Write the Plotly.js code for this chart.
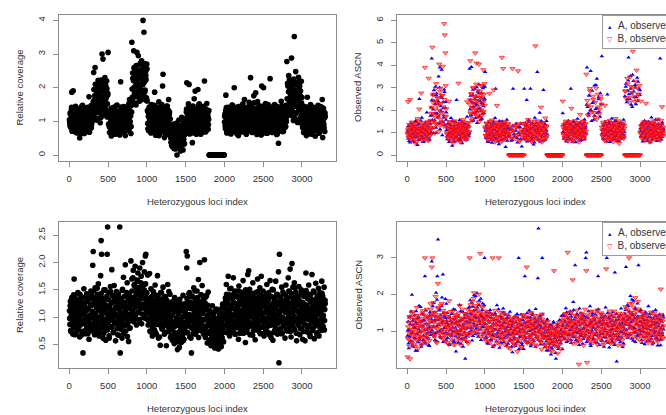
<!DOCTYPE html>
<html>
<head>
<meta charset="utf-8">
<script src="https://cdn.plot.ly/plotly-3.0.1.min.js"></script>
<style>
  html, body { margin: 0; padding: 0; background: #fff; }
  #chart { width: 666px; height: 415px; }
</style>
</head>
<body>
<div id="chart"></div>
<script>
// Relative coverage (x100). Two interleaved samples of the heterozygous loci:
// set 1 holds loci 3, 9, 15, ... and set 2 holds loci 6, 12, 18, ...
const coverageTumor1 = [
  105, 88, 121, 97, 134, 187, 76, 112, 191, 93, 128, 70, 101, 145, 84, 117, 66, 139, 95, 108,
  79, 124, 51, 99, 132, 86, 113, 72, 148, 103, 91, 126, 64, 110, 82, 137, 98, 119, 75, 142,
  89, 106, 173, 68, 129, 94, 115, 81, 135, 100,
  132, 158, 245, 121, 176, 260, 143, 109, 188, 154, 201, 127, 169, 214, 138, 182, 96, 157, 223, 145,
  300, 171, 285, 118, 193, 162, 230, 137, 206, 151, 220, 113, 178, 305,
  92, 118, 67, 131, 85, 104, 57, 126, 99, 141, 78, 113, 88, 136, 62, 107, 124, 94, 149, 71,
  102, 129, 83, 115, 60, 97, 218, 121, 76, 138, 90, 111, 69, 144, 87, 125, 58, 103, 133, 80,
  116, 95, 140, 73, 108, 165, 86, 122, 64, 147,
  335, 172, 228, 156, 310, 201, 245, 183, 262, 149, 219, 305, 176, 238, 295, 207, 268, 161, 252, 193,
  226, 280, 171, 247, 400, 214, 365, 272, 188, 255, 236, 162, 270,
  161, 94, 127, 72, 139, 105, 83, 118, 66, 150, 98, 124, 77, 111, 143, 88, 187, 102, 59, 131,
  91, 115, 70, 136, 84, 158, 107, 63, 122, 95, 141, 79, 113, 205, 240, 87, 126, 52, 109, 133,
  74, 118, 96, 145, 61, 103, 165, 82, 128, 90,
  62, 38, 81, 47, 25, 73, 54, 92, 33, 66, 44, 18, 85, 29, 0, 57, 71, 36, 104, 49,
  63, 27, 88, 52, 112, 41, 76, 15, 97, 58, 34, 83, 108,
  86, 128, 215, 71, 113, 97, 140, 210, 63, 119, 92, 131, 76, 108, 37, 146, 84, 122, 167, 99,
  190, 68, 115, 138, 81, 104, 195, 126, 73, 152, 94, 117, 62, 135, 88, 109, 143, 78, 121, 100,
  220, 85, 130, 69, 114, 153, 91, 124, 77, 106,
  0, 0, 0, 0, 0, 0, 0, 0, 0, 0, 0, 0, 0, 0, 0, 0, 0, 0, 0, 0,
  0, 0, 0, 0, 0, 0, 0, 0, 0, 0, 0, 0, 0,
  98, 122, 79, 178, 141, 66, 105, 131, 88, 116, 72, 139, 94, 110, 63, 127, 85, 148, 101, 76,
  119, 200, 90, 134, 68, 112, 97, 143, 81, 125, 58, 107, 133, 87, 120, 74, 146, 95, 115, 69,
  128, 91, 104, 165, 78, 136, 99, 62, 117, 84, 142, 108, 73, 157, 95, 124, 230, 86, 151, 112,
  67, 138, 101, 176, 82, 120, 93, 185, 129, 71, 114, 159, 88, 106, 147, 75, 132, 97, 122, 60,
  205, 110, 84, 140, 200, 92, 126, 71, 153, 103, 80, 118, 65, 135, 98, 112, 145, 87, 227, 124,
  76, 101, 139, 90, 116, 68, 130, 94, 150, 109, 83, 127, 61, 106, 144, 96, 35, 119, 74, 136,
  102, 88, 160, 115, 70, 128, 93, 141, 79, 111, 125, 85, 148, 99,
  278, 142, 205, 118, 236, 163, 191, 127, 178, 215, 288, 134, 199, 156, 103, 226, 352, 171, 122, 248,
  187, 144, 212, 97, 165, 231, 138, 203, 109, 176, 150, 219, 128,
  134, 81, 112, 67, 145, 96, 123, 88, 107, 58, 119, 172, 92, 138, 75, 103, 128, 63, 150, 99,
  84, 116, 141, 70, 109, 131, 90, 121, 56, 137, 101, 78, 126, 94, 148, 113, 66, 104, 135, 87,
  120, 73, 142, 165, 52, 97, 131, 81, 110, 125
];

const coverageTumor2 = [
  97, 125, 83, 110, 142, 71, 118, 90, 133, 104, 78, 121, 95, 139, 68, 114, 101, 85, 128, 74,
  109, 137, 92, 63, 120, 99, 145, 81, 116, 88, 131, 70, 106, 124, 94, 140, 77, 112, 86, 127,
  102, 69, 135, 96, 119, 80, 147, 91, 108, 123,
  146, 118, 195, 163, 132, 210, 151, 177, 104, 189, 140, 222, 167, 126, 184, 155, 199, 112, 172, 137,
  208, 160, 125, 190, 148, 175, 215, 135, 168, 121, 197, 152, 183, 128,
  115, 84, 129, 96, 72, 138, 107, 90, 122, 66, 101, 134, 79, 117, 93, 146, 70, 112, 87, 125,
  98, 63, 131, 109, 82, 120, 143, 91, 76, 114, 105, 136, 68, 127, 95, 118, 84, 140, 102, 73,
  123, 89, 111, 152, 78, 132, 99, 116, 85, 128,
  196, 244, 168, 221, 259, 182, 234, 153, 207, 266, 190, 227, 175, 249, 212, 161, 238, 199, 273, 186,
  230, 165, 254, 209, 241, 178, 262, 218, 193, 247, 224, 170, 256,
  132, 78, 115, 96, 143, 86, 121, 69, 108, 137, 92, 126, 74, 113, 100, 148, 81, 119, 65, 130,
  104, 88, 141, 97, 123, 58, 111, 135, 83, 117, 94, 150, 72, 128, 106, 89, 139, 67, 114, 125,
  99, 80, 146, 110, 76, 133, 93, 119, 62, 107,
  51, 74, 29, 60, 88, 42, 67, 20, 55, 79, 36, 63, 48, 95, 24, 70, 45, 58, 32, 82,
  53, 12, 66, 40, 77, 57, 30, 90, 47, 69, 61, 99, 75,
  104, 137, 79, 118, 92, 152, 70, 125, 98, 114, 83, 142, 106, 66, 129, 95, 117, 76, 138, 101,
  88, 121, 62, 133, 110, 85, 147, 96, 72, 124, 109, 139, 80, 116, 93, 128, 68, 112, 145, 87,
  119, 99, 74, 136, 103, 127, 82, 115, 91, 132,
  0, 0, 0, 0, 0, 0, 0, 0, 0, 0, 0, 0, 0, 0, 0, 0, 0, 0, 0, 0,
  0, 0, 0, 0, 0, 0, 0, 0, 0, 0, 0, 0, 0,
  115, 87, 132, 101, 73, 126, 94, 142, 80, 109, 121, 66, 137, 96, 113, 84, 149, 104, 71, 128,
  92, 118, 139, 77, 106, 131, 89, 62, 123, 99, 144, 82, 114, 127, 70, 135, 97, 111, 86, 152,
  103, 75, 129, 117, 93, 140, 64, 108, 122, 85, 136, 100, 78, 147, 112, 90, 126, 69, 133, 105,
  83, 119, 96, 155, 74, 124, 110, 138, 88, 61, 116, 130, 94, 79, 143, 107, 121, 68, 134, 98,
  87, 145, 113, 76, 127, 102, 139, 84, 118, 65, 131, 95, 109, 150, 81, 123, 72, 136, 104, 91,
  117, 140, 67, 128, 99, 86, 148, 111, 78, 125, 93, 134, 106, 63, 120, 142, 89, 114, 75, 137,
  101, 82, 129, 96, 146, 108, 70, 124, 92, 115, 133, 84, 107, 121,
  167, 213, 129, 188, 152, 224, 141, 196, 118, 178, 203, 135, 169, 220, 147, 184, 109, 209, 158, 193,
  126, 175, 216, 144, 182, 98, 161, 205, 137, 190, 116, 155, 171,
  88, 124, 103, 139, 76, 117, 95, 131, 68, 112, 143, 85, 121, 99, 135, 72, 108, 127, 91, 146,
  80, 115, 62, 132, 104, 89, 141, 97, 120, 74, 128, 110, 83, 137, 94, 118, 66, 125, 101, 144,
  86, 113, 130, 78, 106, 139, 92, 122, 70, 115
];

const coverageNormal1 = [
  112, 87, 129, 74, 103, 136, 95, 118, 81, 141, 170, 99, 68, 124, 108, 90, 132, 77, 145, 101,
  84, 119, 64, 127, 96, 138, 110, 73, 126, 35, 105, 152, 88, 121, 70, 114, 97, 143, 80, 130,
  92, 116, 60, 135, 103, 86, 148, 122, 75, 109, 195, 220, 89, 131, 68, 154, 106, 127, 82, 117,
  142, 94, 161, 73, 122, 100, 136, 176, 240, 215, 88, 129, 62, 113, 150, 97, 134, 79, 58, 121,
  107, 215, 265, 90, 145, 66, 118, 101, 156, 83, 126, 187, 95, 139, 72, 111, 158, 88, 130, 57,
  104, 147, 79, 123, 96, 142, 67, 115, 265, 35, 133, 91, 120, 62, 151, 98, 173, 84, 127, 110,
  196, 75, 138, 102, 163, 89, 117, 56, 144, 106, 81, 128, 203, 98, 170, 135, 112, 186, 92, 158,
  124, 193, 104, 147, 86, 168, 131, 181, 109, 154, 96, 190, 139, 116, 175, 88, 142, 200, 121, 160,
  103, 183, 134, 212, 215, 98, 145, 122, 177, 86, 130, 108, 180, 75, 121, 152, 94, 138, 66, 113,
  147, 87, 126, 101, 159, 72, 118, 140, 91, 176, 105, 62, 133, 97, 120, 49, 145, 84, 111, 128,
  78, 155, 100, 123, 69, 138, 92, 114, 48, 131, 86, 160, 107, 74, 126, 95, 142, 63, 117, 88,
  103, 58, 129, 81, 112, 52, 136, 93, 71, 120, 62, 98, 41, 125, 85, 110, 45, 133, 76, 95,
  54, 118, 88, 67, 140, 101, 60, 124, 79, 107, 91, 220, 190, 212, 72, 128, 96, 103, 145, 83,
  116, 62, 35, 137, 94, 121, 78, 154, 109, 87, 132, 69, 113, 98, 148, 82, 125, 169, 91, 104,
  200, 76, 119, 141, 88, 158, 107, 72, 130, 95, 205, 115, 63, 137, 84, 122, 53, 99, 146, 71,
  88, 59, 112, 74, 48, 96, 65, 121, 82, 53, 101, 70, 44, 92, 61, 115, 79, 50, 86, 67,
  42, 98, 73, 57, 108, 81, 46, 90, 63, 124, 76, 55, 102, 118, 84, 135, 97, 160, 72, 128,
  109, 175, 88, 141, 66, 122, 100, 153, 81, 117, 134, 93, 172, 77, 126, 104, 148, 69, 115, 90,
  139, 82, 120, 60, 157, 98, 131, 74, 111, 146, 87, 124, 103, 167, 71, 136, 95, 118, 54, 142,
  99, 128, 80, 178, 113, 185, 90, 151, 68, 125, 106, 140, 84, 120, 163, 75, 133, 97, 116, 59,
  145, 88, 127, 101, 170, 78, 136, 112, 92, 154, 70, 119, 175, 95, 131, 83, 148, 108, 66, 124,
  98, 137, 79, 116, 160, 90, 129, 72, 145, 104, 85, 167, 112, 63, 138, 96, 122, 58, 150, 107,
  130, 76, 117, 166, 89, 141, 101, 69, 126, 183, 17, 215, 94, 136, 80, 113, 155, 71, 121, 99,
  143, 86, 128, 62, 110, 159, 93, 134, 75, 118, 172, 101, 147, 83, 188, 125, 64, 140, 198, 108,
  155, 91, 133, 163, 77, 120, 146, 97, 57, 129, 111, 138, 85, 156, 102, 68, 124, 94, 150, 80,
  127, 60, 115, 139, 88, 106, 57, 145, 181, 98, 122, 73, 134, 100, 159, 84, 117, 65, 141, 109,
  90, 178, 126, 79, 148, 103, 61, 131, 95, 162, 113, 70, 137, 87, 123, 153, 66, 108, 145, 92,
  128, 76, 166, 101, 139, 83, 118, 155, 94, 131
];

const coverageNormal2 = [
  98, 121, 76, 109, 133, 88, 115, 69, 127, 102, 84, 139, 95, 117, 72, 124, 106, 91, 131, 79,
  113, 100, 142, 86, 120, 67, 108, 135, 93, 118, 75, 126, 104, 89, 137, 97, 112, 81, 129, 70,
  116, 94, 134, 103, 78, 122, 87, 140, 99, 111, 125, 83, 148, 107, 92, 136, 74, 119, 101, 153,
  88, 130, 112, 66, 141, 97, 123, 80, 144, 105, 118, 135, 90, 71, 127, 109, 150, 85, 114, 96,
  139, 77, 121, 103, 132, 62, 116, 94, 147, 108, 82, 126, 99, 140, 73, 113, 131, 89, 118, 105,
  136, 91, 120, 68, 143, 101, 84, 127, 110, 95, 78, 134, 106, 149, 88, 119, 71, 138, 97, 124,
  112, 86, 145, 103, 65, 130, 92, 117, 139, 80, 121, 102, 135, 96, 148, 113, 172, 129, 104, 160,
  138, 118, 155, 97, 143, 126, 166, 109, 152, 131, 92, 147, 121, 163, 135, 106, 158, 124, 141, 99,
  150, 117, 137, 161, 112, 144, 128, 96, 133, 108, 125, 88, 117, 74, 136, 102, 93, 129, 81, 114,
  106, 142, 77, 120, 98, 131, 69, 111, 125, 87, 137, 95, 118, 64, 104, 127, 90, 145, 79, 112,
  99, 134, 85, 121, 107, 72, 138, 93, 116, 101, 128, 83, 110, 147, 76, 122, 97, 88, 66, 115,
  78, 104, 59, 123, 92, 71, 110, 84, 131, 67, 99, 116, 55, 87, 106, 73, 127, 62, 95, 112,
  80, 119, 68, 101, 57, 90, 124, 76, 108, 85, 115, 72, 134, 98, 121, 86, 143, 105, 64, 127,
  93, 118, 81, 139, 102, 70, 125, 96, 113, 148, 84, 120, 106, 75, 136, 91, 117, 63, 129, 100,
  112, 87, 141, 95, 124, 78, 108, 133, 69, 119, 97, 126, 82, 114, 140, 73, 103, 122, 89, 111,
  74, 95, 58, 83, 106, 66, 91, 52, 79, 102, 63, 87, 110, 71, 55, 97, 80, 114, 68, 93,
  85, 61, 104, 76, 49, 92, 70, 117, 82, 57, 99, 73, 108, 118, 86, 129, 101, 142, 93, 124,
  113, 80, 135, 97, 152, 107, 121, 74, 139, 94, 116, 128, 85, 144, 103, 69, 125, 110, 88, 137,
  96, 119, 148, 82, 127, 105, 71, 133, 112, 91, 140, 99, 123, 78, 115, 131, 87, 109, 150, 95,
  121, 73, 136, 104, 92, 127, 116, 84, 145, 101, 130, 88, 113, 67, 139, 107, 95, 124, 79, 118,
  98, 134, 111, 86, 147, 122, 75, 105, 131, 93, 115, 141, 82, 126, 99, 70, 137, 108, 120, 90,
  128, 77, 112, 143, 95, 118, 84, 132, 104, 68, 121, 99, 138, 86, 110, 151, 93, 125, 72, 116,
  103, 134, 81, 119, 97, 128, 142, 89, 111, 76, 124, 106, 137, 92, 115, 70, 131, 100, 146, 85,
  118, 95, 127, 109, 140, 78, 113, 133, 88, 122, 105, 148, 91, 126, 74, 137, 110, 97, 143, 116,
  83, 129, 102, 119, 154, 94, 136, 71, 112, 125, 139, 87, 108, 131, 96, 120, 79, 145, 104, 116,
  92, 127, 74, 111, 138, 98, 123, 86, 149, 107, 118, 81, 135, 96, 112, 142, 69, 128, 101, 90,
  133, 109, 76, 124, 97, 146, 115, 84, 130, 102, 88, 121, 139, 72, 106, 117, 94, 135, 80, 126,
  111, 98, 144, 85, 119, 103, 132, 77, 114, 125
];

// Observed allele-specific copy numbers (x100). Two interleaved samples of the loci:
// set 1 holds loci 4, 12, 20, ... and set 2 holds loci 8, 16, 24, ...
const ascnTumorA1 = [
  108, 74, 131, 92, 56, 117, 143, 85, 99, 62, 126, 101, 78, 152, 89, 113, 45, 137, 95, 250,
  71, 122, 104, 166, 83, 58, 118, 97, 141, 76, 109, 190, 88, 128, 66, 152, 93, 175,
  212, 430, 156, 268, 98, 241, 185, 305, 122, 274, 167, 228, 350, 143, 390, 199, 262, 380, 88, 235,
  176, 292, 134, 210, 158,
  112, 71, 136, 94, 58, 121, 87, 165, 103, 42, 128, 96, 74, 149, 110, 83, 245, 119, 65, 137,
  91, 156, 77, 104, 128, 53, 115, 98, 140, 82, 120, 69, 107, 171, 88, 133, 95,
  385, 247, 176, 392, 213, 268, 154, 231, 295, 189, 259, 221, 143, 282, 205, 314, 173, 240, 198, 276,
  162, 229, 305, 187, 252,
  370, 118, 84, 132, 61, 105, 147, 92, 76, 124, 101, 55, 139, 86, 113, 70, 165, 295, 97, 128,
  80, 110, 48, 152, 93, 121, 67, 135, 104, 88, 143, 74, 116, 36, 99, 158, 82, 127,
  0, 92, 0, 118, 64, 0, 0, 295, 107, 0, 83, 0, 141, 0, 56, 0, 99, 0, 125, 72,
  0, 38, 0, 110, 0,
  295, 96, 134, 71, 245, 112, 88, 156, 63, 123, 295, 101, 79, 141, 92, 47, 118, 166, 85, 130,
  105, 370, 74, 126, 97, 189, 61, 114, 148, 83, 122, 290, 93, 137, 68, 108, 152,
  0, 0, 0, 0, 0, 0, 0, 0, 0, 0, 0, 0, 0, 0, 0, 0, 0, 0, 0, 0,
  0, 0, 0, 0, 0,
  186, 104, 73, 129, 95, 142, 61, 117, 88, 153, 79, 112, 136, 295, 92, 68, 124, 101, 147, 84,
  119, 57, 133, 96, 162, 75, 108, 141, 89, 121, 66, 115, 98, 138, 82, 159, 103, 127,
  0, 390, 214, 0, 176, 265, 0, 375, 198, 0, 232, 0, 158, 310, 0, 205, 0, 340, 187, 0,
  249, 0, 171, 0, 226,
  440, 112, 86, 134, 69, 101, 148, 93, 122, 270, 77, 116, 139, 58, 105, 89, 163, 124, 95, 71,
  131, 108, 84, 152, 97, 62, 118, 143, 80, 126, 102, 73, 137, 91, 115, 158, 86,
  262, 0, 318, 235, 0, 287, 435, 0, 249, 352, 0, 276, 214, 0, 330, 258, 0, 301, 227, 0,
  345, 242, 0, 296, 268,
  118, 84, 139, 96, 61, 127, 105, 153, 78, 113, 92, 146, 70, 121, 99, 135, 57, 110, 167, 87,
  128, 74, 104, 142, 90, 116, 63, 133, 97, 158, 81, 122, 430, 101, 69, 138, 93, 115
];

const ascnTumorA2 = [
  97, 128, 63, 115, 84, 142, 106, 71, 134, 92, 119, 57, 101, 146, 80, 124, 95, 68, 137, 110,
  86, 153, 74, 121, 99, 132, 61, 113, 88, 145, 105, 77, 129, 94, 118, 69, 140, 102,
  178, 246, 121, 203, 289, 154, 227, 98, 265, 186, 139, 240, 172, 301, 115, 218, 194, 256, 147, 209,
  168, 281, 132, 237, 190,
  123, 86, 141, 99, 67, 118, 134, 78, 107, 152, 91, 126, 59, 113, 145, 82, 104, 131, 72, 120,
  96, 138, 65, 110, 88, 147, 101, 76, 129, 93, 116, 139, 70, 108, 125, 84, 100,
  203, 264, 178, 238, 152, 291, 215, 187, 250, 165, 226, 302, 194, 243, 170, 277, 209, 158, 255, 231,
  184, 298, 219, 246, 305,
  109, 76, 133, 94, 121, 58, 142, 87, 115, 101, 68, 127, 96, 149, 80, 112, 136, 73, 105, 124,
  90, 61, 139, 117, 83, 128, 99, 151, 70, 114, 93, 134, 78, 108, 126, 64, 119, 97,
  85, 0, 112, 0, 0, 67, 131, 0, 94, 0, 0, 108, 0, 76, 123, 0, 0, 89, 0, 140,
  0, 0, 101, 0, 71,
  118, 79, 136, 93, 61, 127, 105, 148, 84, 113, 97, 140, 70, 121, 88, 132, 56, 109, 126, 75,
  143, 98, 115, 67, 130, 91, 107, 152, 82, 119, 64, 124, 101, 137, 86, 111, 95,
  0, 0, 0, 0, 0, 0, 0, 0, 0, 0, 0, 0, 0, 0, 0, 0, 0, 0, 0, 0,
  0, 0, 0, 0, 0,
  101, 134, 78, 117, 92, 145, 69, 122, 106, 87, 139, 73, 114, 98, 128, 60, 111, 150, 85, 124,
  95, 137, 76, 108, 131, 89, 119, 66, 142, 103, 81, 126, 97, 113, 148, 71, 120, 94,
  224, 0, 0, 186, 265, 0, 201, 0, 152, 287, 0, 238, 0, 175, 0, 312, 0, 209, 0, 257,
  193, 0, 276, 0, 0,
  96, 129, 73, 116, 142, 87, 108, 61, 134, 101, 120, 78, 147, 93, 112, 66, 125, 104, 138, 82,
  99, 153, 71, 118, 90, 131, 106, 63, 127, 85, 144, 110, 95, 123, 76, 136, 102,
  0, 305, 0, 248, 0, 332, 271, 0, 0, 296, 224, 0, 358, 0, 283, 0, 312, 0, 259, 0,
  0, 327, 0, 0, 289,
  107, 83, 131, 96, 144, 72, 119, 102, 88, 136, 63, 125, 110, 149, 79, 116, 93, 140, 68, 121,
  99, 133, 85, 112, 157, 74, 127, 104, 91, 138, 66, 118, 97, 129, 81, 145, 106, 115
];

const ascnTumorB1 = [
  95, 238, 121, 80, 247, 102, 66, 133, 90, 115, 73, 141, 108, 52, 127, 86, 162, 99, 118, 205,
  84, 110, 276, 93, 138, 69, 121, 104, 390, 81, 126, 97, 148, 74, 342, 112, 89, 155,
  186, 118, 480, 234, 150, 272, 97, 205, 318, 141, 253, 176, 229, 405, 132, 298, 190, 266, 148, 395,
  215, 585, 535, 455, 172,
  101, 135, 78, 118, 240, 92, 149, 66, 113, 87, 126, 54, 104, 141, 96, 95, 72, 131, 108, 320,
  117, 62, 144, 98, 79, 123, 105, 158, 86, 134, 71, 113, 90, 237, 127, 102, 146,
  226, 420, 184, 272, 155, 243, 301, 198, 262, 455, 215, 410, 178, 288, 234, 405, 167, 256, 310, 201,
  273, 189, 380, 243, 318,
  125, 87, 141, 73, 110, 95, 134, 275, 68, 119, 102, 156, 81, 127, 290, 93, 145, 64, 115, 220,
  88, 131, 76, 106, 138, 59, 122, 435, 97, 385, 113, 71, 148, 90, 126, 84, 105, 137,
  96, 0, 128, 0, 0, 74, 385, 0, 0, 112, 0, 88, 0, 134, 0, 375, 0, 61, 0, 0,
  104, 0, 142, 0, 79,
  112, 85, 140, 67, 123, 98, 158, 76, 131, 104, 89, 147, 62, 118, 95, 135, 73, 110, 486, 126,
  81, 152, 99, 68, 137, 107, 91, 213, 121, 58, 143, 87, 116, 102, 165, 74, 129,
  0, 0, 0, 0, 0, 0, 0, 0, 0, 0, 0, 0, 0, 0, 0, 0, 0, 0, 0, 0,
  0, 0, 0, 0, 0,
  240, 97, 135, 78, 118, 151, 86, 124, 65, 109, 142, 91, 117, 73, 208, 129, 100, 62, 136, 88,
  154, 104, 79, 126, 95, 143, 69, 113, 181, 97, 131, 84, 120, 148, 73, 107, 93, 139,
  360, 0, 0, 223, 0, 0, 285, 0, 0, 192, 0, 247, 0, 0, 168, 0, 298, 0, 0, 214,
  0, 183, 0, 262, 0,
  124, 89, 146, 72, 113, 221, 97, 138, 64, 108, 131, 83, 119, 155, 94, 70, 127, 102, 143, 79,
  115, 93, 162, 68, 124, 107, 137, 85, 52, 118, 96, 141, 78, 129, 104, 88, 133,
  0, 284, 0, 0, 341, 0, 0, 256, 0, 0, 305, 0, 0, 462, 0, 0, 238, 0, 0, 378,
  0, 0, 271, 0, 0,
  102, 240, 131, 78, 116, 93, 148, 67, 125, 230, 109, 84, 137, 96, 120, 58, 143, 105, 88, 129,
  74, 117, 152, 91, 135, 70, 112, 98, 160, 83, 127, 101, 66, 139, 94, 215, 118, 86
];

const ascnTumorB2 = [
  112, 79, 136, 94, 121, 68, 147, 103, 85, 129, 72, 116, 98, 141, 60, 125, 107, 89, 152, 76,
  118, 95, 133, 66, 110, 144, 83, 127, 101, 74, 139, 92, 115, 63, 130, 106, 87, 121,
  212, 147, 268, 185, 123, 240, 169, 297, 136, 221, 178, 254, 104, 199, 283, 158, 231, 142, 266, 190,
  128, 247, 173, 309, 206,
  94, 131, 73, 118, 146, 86, 109, 62, 137, 100, 125, 79, 152, 91, 114, 67, 128, 105, 141, 83,
  99, 121, 58, 134, 110, 88, 148, 75, 117, 96, 130, 69, 106, 143, 81, 124, 103,
  246, 188, 273, 211, 162, 298, 229, 185, 257, 203, 316, 174, 240, 266, 197, 149, 283, 218, 254, 176,
  309, 232, 195, 270, 221,
  118, 86, 142, 99, 67, 127, 108, 150, 81, 115, 93, 136, 72, 121, 104, 58, 131, 96, 147, 84,
  112, 125, 70, 139, 101, 88, 119, 63, 134, 97, 145, 78, 110, 129, 91, 106, 140, 75,
  0, 96, 0, 118, 82, 0, 0, 107, 0, 131, 74, 0, 125, 0, 0, 92, 139, 0, 66, 0,
  113, 88, 0, 102, 0,
  103, 138, 77, 121, 94, 146, 69, 115, 129, 86, 109, 61, 133, 98, 117, 82, 151, 92, 124, 73,
  140, 105, 88, 127, 64, 112, 136, 99, 79, 144, 118, 71, 107, 131, 90, 125, 83,
  0, 0, 0, 0, 0, 0, 0, 0, 0, 0, 0, 0, 0, 0, 0, 0, 0, 0, 0, 0,
  0, 0, 0, 0, 0,
  126, 89, 114, 71, 142, 104, 95, 133, 62, 118, 107, 149, 82, 124, 97, 66, 139, 111, 86, 128,
  75, 116, 145, 92, 120, 101, 58, 135, 109, 84, 127, 96, 151, 78, 113, 137, 90, 105,
  0, 243, 178, 0, 0, 296, 0, 215, 0, 0, 262, 0, 189, 0, 234, 0, 158, 0, 271, 0,
  0, 204, 0, 250, 227,
  111, 84, 137, 98, 65, 123, 106, 149, 80, 117, 93, 132, 71, 119, 102, 145, 87, 126, 59, 113,
  140, 96, 121, 76, 134, 108, 90, 152, 69, 115, 99, 128, 83, 110, 143, 74, 120,
  286, 0, 253, 0, 317, 0, 0, 234, 348, 0, 0, 279, 0, 301, 0, 262, 0, 329, 0, 245,
  298, 0, 271, 310, 0,
  95, 128, 74, 113, 141, 86, 120, 102, 67, 134, 109, 91, 147, 79, 118, 100, 131, 62, 124, 88,
  143, 105, 76, 116, 97, 138, 83, 127, 111, 70, 132, 93, 119, 154, 85, 107, 125, 98
];

const ascnNormalA1 = [
  88, 126, 54, 104, 141, 73, 95, 200, 62, 117, 132, 81, 109, 47, 155, 92, 120, 70, 138, 99,
  84, 166, 58, 113, 128, 76, 145, 102, 250, 67, 119, 93, 137, 81, 107, 60, 152, 98, 125, 290,
  143, 112, 177, 86, 131, 94, 205, 73, 250, 350, 118, 157, 101, 135, 82, 168, 124, 255, 95, 141,
  112, 188, 77, 129, 150, 93, 116, 64, 138, 105, 87, 147, 122, 99, 160, 71, 134, 110, 45, 126,
  95, 141, 83, 118, 172, 102, 66, 131, 90, 153, 114, 79, 136, 25, 107, 148, 88, 124, 163, 97,
  132, 185, 109, 146, 75, 167, 121, 198, 140, 93, 158, 116, 204, 137, 85, 172, 128, 105, 189, 143,
  111, 176, 94, 135, 300, 120, 82, 152, 105, 68, 139, 97, 124, 158, 76, 113, 145, 89, 130, 106,
  62, 149, 118, 92, 171, 84, 127, 103, 55, 140, 115, 80, 133, 96, 162, 71, 122, 108, 145, 87,
  104, 136, 66, 119, 91, 153, 78, 114, 129, 43, 97, 125, 84, 141, 60, 110, 93, 138, 73, 300,
  120, 86, 105, 146, 68, 116, 131, 52, 99, 250, 82, 124, 95, 138, 71, 112, 157, 88, 130, 64,
  103, 148, 77, 118, 93, 135, 58, 109, 126, 84, 245, 380, 97, 142, 115, 73, 128, 300, 90, 107,
  65, 121, 86, 104, 48, 133, 79, 97, 112, 58, 88, 37, 115, 70, 93, 126, 61, 82, 107, 25,
  74, 99, 118, 52, 86, 131, 68, 103, 142, 95, 113, 145, 80, 128, 97, 163, 71, 118, 136, 89,
  124, 102, 155, 76, 140, 110, 92, 180, 131, 84, 280, 117, 98, 147, 73, 126, 105, 162, 88, 135,
  94, 121, 66, 143, 109, 85, 130, 300, 315, 102, 138, 77, 116, 95, 168, 60, 125, 103, 149, 82,
  110, 134, 71, 120, 96, 157, 88, 250, 113, 63, 129, 92, 146, 75, 108, 138, 84, 122, 101, 165,
  72, 300, 115, 91, 137, 56, 124, 98, 143, 80, 106, 152, 69, 118, 260, 87, 131, 18, 110, 94,
  140, 76, 123, 99, 162, 83, 115, 134, 67, 105, 148, 118, 275, 92, 171, 130, 86, 154, 109, 196,
  125, 80, 145, 112, 183, 97, 136, 71, 160, 119, 88, 141, 280, 104, 127, 93, 158, 76, 116, 135,
  99, 121, 65, 147, 108, 85, 130, 94, 168, 113, 74, 139, 102, 118, 87, 153, 69, 125, 96, 141,
  110, 82, 134, 61, 119, 90, 146, 105, 77, 128, 95, 115, 138
];

const ascnNormalA2 = [
  102, 67, 138, 85, 119, 154, 73, 96, 128, 58, 111, 143, 81, 124, 92, 47, 135, 106, 170, 77,
  99, 126, 64, 148, 115, 88, 131, 71, 104, 157, 83, 120, 96, 139, 62, 112, 145, 90, 133, 102,
  168, 94, 127, 152, 76, 140, 113, 186, 99, 131, 118, 161, 85, 144, 105, 192, 128, 71, 150, 109,
  136, 97, 175, 123, 82, 116, 139, 63, 104, 128, 91, 147, 110, 74, 133, 98, 159, 86, 121, 102,
  140, 69, 115, 93, 128, 155, 80, 107, 134, 58, 119, 97, 145, 84, 126, 71, 110, 138, 92, 166,
  124, 149, 102, 178, 131, 87, 156, 115, 142, 196, 108, 137, 165, 94, 128, 183, 119, 146, 76, 139,
  158, 112, 131, 171, 97, 120, 84, 143, 106, 66, 129, 92, 150, 111, 78, 136, 101, 57, 122, 88,
  145, 104, 131, 72, 117, 96, 160, 85, 126, 108, 69, 138, 94, 115, 151, 82, 123, 100, 134, 61,
  112, 89, 143, 97, 74, 128, 106, 58, 119, 91, 135, 80, 103, 66, 124, 95, 147, 71, 110, 52,
  99, 131, 84, 117, 63, 106, 140, 88, 122, 75, 113, 96, 149, 68, 127, 101, 82, 138, 59, 119,
  91, 144, 107, 73, 125, 98, 161, 85, 112, 130, 77, 118, 102, 135, 64, 109, 93, 146, 81, 124,
  96, 57, 113, 72, 129, 87, 48, 104, 66, 118, 79, 95, 54, 108, 71, 123, 62, 88, 41, 100,
  83, 112, 58, 94, 76, 130, 67, 103, 86, 51, 118, 97, 141, 80, 126, 109, 152, 73, 115, 134,
  92, 147, 104, 68, 129, 113, 85, 158, 99, 121, 138, 76, 110, 145, 95, 127, 63, 116, 101, 149,
  87, 132, 106, 79, 124, 140, 93, 117, 71, 136, 102, 155, 84, 119, 66, 128, 97, 143, 111, 78,
  131, 90, 146, 105, 123, 69, 114, 160, 88, 125, 99, 137, 75, 118, 94, 131, 58, 107, 142, 83,
  121, 96, 150, 68, 113, 134, 87, 104, 128, 73, 116, 92, 139, 63, 125, 101, 147, 80, 109, 132,
  86, 119, 70, 144, 98, 122, 57, 111, 135, 94, 127, 158, 104, 141, 82, 169, 117, 136, 93, 150,
  112, 187, 129, 74, 145, 108, 162, 97, 133, 121, 176, 89, 138, 115, 154, 101, 126, 68, 143, 109,
  84, 130, 97, 152, 118, 72, 124, 106, 139, 91, 147, 113, 80, 127, 65, 135, 102, 119, 88, 158,
  99, 123, 141, 77, 114, 96, 132, 62, 108, 126, 90, 144, 105
];

const ascnNormalB1 = [
  30, 112, 78, 140, 25, 96, 125, 68, 153, 87, 104, 132, 59, 118, 91, 165, 75, 110, 143, 82,
  98, 127, 63, 115, 150, 84, 106, 72, 300, 136, 93, 160, 118, 81, 138, 102, 127, 175, 147, 275,
  300, 113, 89, 152, 128, 195, 71, 140, 107, 230, 165, 96, 135, 118, 83, 176, 142, 104, 124, 90,
  150, 73, 128, 110, 92, 140, 65, 183, 117, 98, 132, 85, 119, 155, 64, 108, 137, 94, 122, 76,
  143, 101, 115, 87, 170, 129, 62, 135, 97, 111, 126, 80, 148, 105, 93, 139, 72, 160, 116, 88,
  300, 128, 154, 96, 181, 135, 113, 205, 144, 102, 170, 124, 92, 156, 138, 201, 108, 312, 149, 121,
  95, 165, 131, 86, 142, 118, 74, 137, 103, 152, 88, 126, 110, 69, 145, 97, 134, 300, 82, 119,
  104, 157, 91, 128, 75, 115, 140, 300, 98, 63, 122, 87, 136, 109, 151, 78, 118, 95, 131, 70,
  103, 125, 56, 141, 86, 114, 97, 133, 72, 108, 90, 122, 64, 137, 99, 80, 113, 45, 128, 93,
  117, 75, 131, 102, 58, 144, 89, 120, 106, 83, 138, 97, 275, 115, 71, 126, 92, 150, 84, 110,
  67, 121, 101, 135, 78, 113, 94, 130, 60, 118, 87, 142, 105, 73, 124, 96, 51, 133, 82, 109,
  91, 62, 118, 79, 103, 55, 126, 85, 97, 70, 112, 48, 94, 77, 106, 66, 265, 88, 59, 101,
  72, 93, 40, 114, 82, 64, 120, 95, 76, 128, 104, 137, 89, 118, 96, 148, 81, 125, 315, 110,
  133, 92, 121, 75, 152, 106, 240, 87, 128, 99, 115, 68, 141, 103, 126, 84, 10, 119, 94, 137,
  78, 145, 108, 131, 88, 120, 160, 97, 265, 15, 123, 86, 141, 101, 72, 130, 112, 155, 89, 117,
  95, 136, 78, 124, 107, 148, 63, 119, 92, 133, 84, 112, 150, 98, 127, 70, 141, 105, 88, 121,
  270, 93, 134, 79, 115, 102, 146, 67, 123, 96, 138, 85, 110, 155, 74, 128, 91, 117, 104, 62,
  120, 98, 143, 81, 113, 132, 76, 107, 149, 90, 126, 167, 103, 140, 85, 158, 119, 300, 137, 94,
  152, 111, 176, 129, 87, 145, 103, 192, 123, 98, 135, 81, 161, 115, 92, 140, 72, 127, 106, 153,
  88, 118, 97, 139, 74, 124, 109, 83, 130, 101, 145, 78, 116, 93, 134, 68, 122, 105, 150, 87,
  113, 132, 76, 119, 98, 141, 84, 127, 215, 95, 110, 136, 81
];

const ascnNormalB2 = [
  81, 124, 96, 58, 137, 105, 72, 149, 90, 116, 63, 131, 99, 142, 77, 110, 128, 54, 121, 94,
  135, 86, 113, 70, 156, 101, 125, 83, 144, 108, 66, 119, 92, 138, 105, 75, 129, 160, 113, 142,
  97, 178, 124, 86, 151, 110, 137, 69, 163, 120, 145, 93, 128, 171, 102, 134, 81, 157, 116, 99,
  126, 148, 88, 112, 69, 139, 104, 123, 91, 154, 107, 76, 131, 118, 95, 146, 64, 127, 100, 139,
  85, 121, 150, 97, 113, 72, 136, 105, 160, 89, 118, 133, 78, 109, 147, 94, 125, 67, 141, 112,
  138, 172, 107, 154, 126, 95, 189, 131, 148, 117, 163, 100, 142, 128, 178, 111, 151, 86, 135, 167,
  122, 146, 103, 130, 81, 155, 114, 97, 139, 108, 73, 126, 95, 148, 112, 84, 133, 101, 60, 119,
  142, 90, 116, 129, 69, 137, 105, 87, 152, 98, 124, 77, 113, 144, 93, 131, 64, 109, 127, 86,
  146, 100, 121, 80, 115, 53, 98, 134, 72, 107, 88, 127, 61, 112, 96, 140, 78, 105, 118, 67,
  131, 93, 109, 57, 124, 85, 101, 145, 76, 114, 97, 139, 68, 121, 106, 82, 133, 115, 92, 150,
  74, 110, 128, 95, 143, 63, 117, 102, 86, 131, 108, 79, 136, 99, 122, 70, 147, 91, 114, 83,
  127, 96, 64, 108, 81, 116, 55, 93, 72, 102, 61, 87, 109, 46, 94, 75, 118, 66, 98, 84,
  105, 59, 90, 124, 71, 97, 52, 111, 80, 93, 130, 104, 88, 147, 113, 76, 125, 99, 141, 118,
  85, 136, 109, 152, 94, 120, 67, 128, 103, 144, 91, 114, 157, 80, 131, 106, 73, 139, 97, 122,
  149, 101, 126, 62, 117, 93, 134, 110, 86, 145, 107, 78, 128, 99, 153, 116, 84, 131, 68, 120,
  95, 139, 112, 74, 126, 103, 158, 87, 118, 136, 79, 124, 98, 146, 107, 63, 119, 133, 90, 114,
  102, 141, 72, 127, 95, 155, 110, 83, 131, 99, 67, 118, 143, 88, 124, 105, 78, 136, 96, 113,
  149, 81, 109, 126, 92, 137, 60, 115, 101, 128, 135, 98, 162, 121, 144, 86, 129, 175, 108, 151,
  94, 138, 117, 166, 103, 147, 79, 132, 155, 112, 125, 181, 99, 140, 116, 87, 133, 106, 148, 120,
  104, 137, 83, 118, 146, 95, 127, 69, 111, 134, 90, 123, 152, 101, 76, 129, 114, 143, 87, 106,
  131, 97, 119, 72, 140, 108, 125, 91, 146, 103, 82, 128, 115
];

const coverageStep = 6;   // loci between values within one coverage set
const ascnStep = 8;       // loci between values within one ASCN set
const lociTicks = [0, 500, 1000, 1500, 2000, 2500, 3000];
const xLabel = 'Heterozygous loci index';
const coverageLabel = 'Relative coverage';
const ascnLabel = 'Observed ASCN';
const seriesNames = ['A, observed', 'B, observed'];

function lociIndex(count, step, first) {
  return Array.from({ length: count }, (_, i) => first + i * step);
}
const fromHundredths = v => v / 100;

const dot = { symbol: 'circle', size: 5.6, color: '#000000' };
const markA = { symbol: 'triangle-up', size: 4, color: '#0000ff' };
const markB = { symbol: 'triangle-down', size: 4.6, color: 'rgba(255,60,60,0.5)',
                line: { color: 'rgba(255,0,0,0.9)', width: 0.7 } };

function points(values, step, first, xa, ya, marker, name) {
  return {
    type: 'scatter', mode: 'markers', name: name || '',
    x: lociIndex(values.length, step, first), y: values.map(fromHundredths),
    xaxis: xa, yaxis: ya, marker: marker, showlegend: false, hoverinfo: 'skip'
  };
}

const traces = [
  points(coverageTumor1, coverageStep, 3, 'x', 'y', dot),
  points(coverageTumor2, coverageStep, 6, 'x', 'y', dot),
  points(ascnTumorA1, ascnStep, 4, 'x2', 'y2', markA, seriesNames[0]),
  points(ascnTumorA2, ascnStep, 8, 'x2', 'y2', markA, seriesNames[0]),
  points(ascnTumorB1, ascnStep, 4, 'x2', 'y2', markB, seriesNames[1]),
  points(ascnTumorB2, ascnStep, 8, 'x2', 'y2', markB, seriesNames[1]),
  points(coverageNormal1, coverageStep, 3, 'x3', 'y3', dot),
  points(coverageNormal2, coverageStep, 6, 'x3', 'y3', dot),
  points(ascnNormalA1, ascnStep, 4, 'x4', 'y4', markA, seriesNames[0]),
  points(ascnNormalA2, ascnStep, 8, 'x4', 'y4', markA, seriesNames[0]),
  points(ascnNormalB1, ascnStep, 4, 'x4', 'y4', markB, seriesNames[1]),
  points(ascnNormalB2, ascnStep, 8, 'x4', 'y4', markB, seriesNames[1])
];

const W = 666, H = 415;
const font = 'Liberation Sans, Arial, Helvetica, sans-serif';
const frame = '#8c8c8c';

function axis(extra) {
  return Object.assign({
    showline: true, mirror: true, linecolor: frame, linewidth: 1,
    ticks: 'outside', ticklen: 5, tickcolor: frame, tickwidth: 1,
    showgrid: false, zeroline: false, fixedrange: true,
    tickfont: { family: font, size: 9.5, color: '#333' },
    ticklabelstandoff: 4
  }, extra);
}

const leftDomain = [59 / W, 335.5 / W];
const rightDomain = [397 / W, 1];
const topDomain = [1 - 160.5 / H, 1 - 15 / H];
const bottomDomain = [1 - 368 / H, 1 - 222 / H];

const xLeft = { domain: leftDomain, range: [-132, 3432], tickvals: lociTicks };
const xRight = { domain: rightDomain, range: [-132, 3335], tickvals: lociTicks };
const yTick = { tickangle: -90 };

function text(str, px, py, angle) {
  return {
    text: str, xref: 'paper', yref: 'paper', x: px / W, y: 1 - py / H,
    xanchor: 'center', yanchor: 'middle', showarrow: false, textangle: angle || 0,
    font: { family: font, size: 9.5, color: '#333' }
  };
}

function legendBox(topPx) {
  const nb = '\u00a0';
  return {
    text: '<span style="color:#0000ff;font-size:5.5px">\u25B2</span>' + nb + nb + seriesNames[0] +
          '<br><span style="color:#ff2020;font-size:6.5px">\u25BD</span>' + nb + nb + seriesNames[1],
    xref: 'paper', yref: 'paper', x: 602 / W, y: 1 - topPx / H,
    xanchor: 'left', yanchor: 'top', align: 'left', showarrow: false,
    bgcolor: '#ffffff', bordercolor: '#9a9a9a', borderwidth: 1, borderpad: 4,
    font: { family: font, size: 10, color: '#333' }
  };
}

const layout = {
  width: W, height: H, margin: { l: 0, r: 0, t: 0, b: 0 },
  paper_bgcolor: '#ffffff', plot_bgcolor: '#ffffff', showlegend: false,
  xaxis: axis(Object.assign({ anchor: 'y' }, xLeft)),
  yaxis: axis(Object.assign({ anchor: 'x', domain: topDomain, range: [-0.16, 4.16], tickvals: [0, 1, 2, 3, 4] }, yTick)),
  xaxis2: axis(Object.assign({ anchor: 'y2' }, xRight)),
  yaxis2: axis(Object.assign({ anchor: 'x2', domain: topDomain, range: [-0.24, 6.24], tickvals: [0, 1, 2, 3, 4, 5, 6] }, yTick)),
  xaxis3: axis(Object.assign({ anchor: 'y3' }, xLeft)),
  yaxis3: axis(Object.assign({ anchor: 'x3', domain: bottomDomain, range: [0.074, 2.74], tickvals: [0.5, 1, 1.5, 2, 2.5], tickformat: '.1f' }, yTick)),
  xaxis4: axis(Object.assign({ anchor: 'y4' }, xRight)),
  yaxis4: axis(Object.assign({ anchor: 'x4', domain: bottomDomain, range: [0, 3.98], tickvals: [1, 2, 3] }, yTick)),
  annotations: [
    text(xLabel, 197.5, 201), text(xLabel, 535.5, 201),
    text(xLabel, 197.5, 408), text(xLabel, 535.5, 408),
    text(coverageLabel, 19, 87.5, -90), text(ascnLabel, 357.5, 87.5, -90),
    text(coverageLabel, 19, 295, -90), text(ascnLabel, 357.5, 295, -90),
    legendBox(15), legendBox(222)
  ]
};

Plotly.newPlot('chart', traces, layout, { staticPlot: true, displayModeBar: false });
</script>
</body>
</html>
